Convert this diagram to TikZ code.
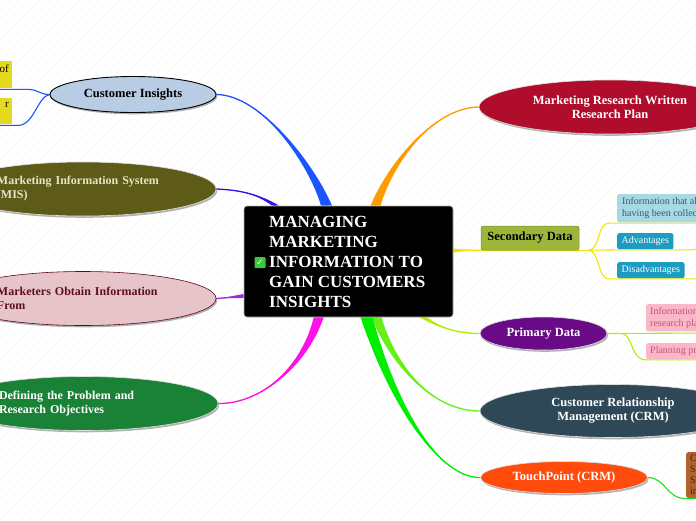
\documentclass[tikz,border=0pt]{standalone}
\usepackage{fontspec}
\setmainfont{Liberation Serif}
\newfontfamily\symfont{DejaVu Sans}
\usetikzlibrary{calc,shapes.geometric,shadows}
\pgfdeclarelayer{bg}
\pgfsetlayers{bg,main}
\definecolor{ciblue}{HTML}{B8CCE4}
\definecolor{misolive}{HTML}{5E5A18}
\definecolor{mistext}{HTML}{E8E4C6}
\definecolor{mkpink}{HTML}{E6C4C9}
\definecolor{mkborder}{HTML}{5C0A1E}
\definecolor{mktext}{HTML}{5C0F20}
\definecolor{defgreen}{HTML}{1A8236}
\definecolor{mrpred}{HTML}{B00C2B}
\definecolor{secgreen}{HTML}{9DB53A}
\definecolor{infoblue}{HTML}{A6D9E5}
\definecolor{infotext}{HTML}{3C5A6A}
\definecolor{advteal}{HTML}{1B9CC0}
\definecolor{primpurple}{HTML}{6A0A86}
\definecolor{pinkbox}{HTML}{F9B7C9}
\definecolor{pinktext}{HTML}{C25475}
\definecolor{crmslate}{HTML}{2E4858}
\definecolor{tpred}{HTML}{FF4B0C}
\definecolor{brownbox}{HTML}{B3622C}
\definecolor{browntext}{HTML}{3C2410}
\definecolor{yellowbox}{HTML}{E6DA1E}
\definecolor{checkgreen}{HTML}{3CC83C}
\definecolor{cblue}{HTML}{1A55FF}
\definecolor{cviolet}{HTML}{3D0FE8}
\definecolor{cpurple}{HTML}{9B2AE8}
\definecolor{cmagenta}{HTML}{FF10E8}
\definecolor{corange}{HTML}{FF9A00}
\definecolor{cyellow}{HTML}{F2E600}
\definecolor{clime}{HTML}{AEF000}
\definecolor{cgreen}{HTML}{66F014}
\definecolor{cbright}{HTML}{00EE00}
\definecolor{ctp}{HTML}{22DD22}
\newcommand\tpr[6]{%
  \fill[#1] ($#2+#6$) .. controls ($#3+0.5*#6$) and #4 .. #5 .. controls #4 and ($#3-0.5*#6$) .. ($#2-#6$) -- cycle;
  \draw[#1,line width=1.3pt] #2 .. controls #3 and #4 .. #5;}
\begin{document}
\begin{tikzpicture}[x=1pt,y=-1pt,
  ell/.style={ellipse, inner sep=0pt, align=center,
    font=\bfseries\fontsize{12.5}{14}\selectfont, draw=white!75!gray, line width=0.6pt,
    drop shadow={shadow xshift=1.2pt, shadow yshift=-1.8pt, fill=black, opacity=0.3}},
  leftell/.style={ell, align=left, font=\bfseries\fontsize{12}{14}\selectfont},
  smallbox/.style={fill=advteal, text=white, font=\fontsize{10}{12}\selectfont,
    inner xsep=4.5pt, inner ysep=0pt, minimum height=16pt, rounded corners=2pt, anchor=north west},
  pinkst/.style={fill=pinkbox, text=pinktext, font=\fontsize{10}{12}\selectfont, align=left,
    inner xsep=4pt, rounded corners=2pt, anchor=north west},
  thinln/.style={line width=1.1pt}]
\useasboundingbox (0,0) rectangle (696,520);
\clip (0,0) rectangle (696,520);

% ---------- nodes ----------
\node[draw=gray!60, fill=black, rounded corners=3pt, minimum width=209pt, minimum height=111pt, line width=0.6pt] (root) at (348.5,261.5) {};
\node[anchor=west, text=white, font=\bfseries\fontsize{17}{20}\selectfont, align=left, inner sep=0pt] (roottext) at (269,261.5)
  {MANAGING\\MARKETING\\INFORMATION TO\\GAIN CUSTOMERS\\INSIGHTS};
\node[fill=checkgreen, rounded corners=1pt, minimum size=11pt, inner sep=0pt, text=white, font=\symfont\fontsize{9}{9}\selectfont] (chk) at (260,262.5) {✓};

\node[ell, fill=ciblue, draw=black, line width=0.9pt, minimum width=166pt, minimum height=36pt] (ci) at (133,94.5) {Customer Insights};
\node[anchor=north east, fill=yellowbox, text width=62pt, align=right, inner xsep=3pt, minimum height=27pt, font=\fontsize{11}{12}\selectfont] (y1) at (12,61) {of\\ \mbox{}};
\node[anchor=north east, fill=yellowbox, text width=62pt, align=right, inner xsep=3pt, minimum height=26pt, font=\fontsize{11}{12}\selectfont] (y2) at (12,98) {r\\ \mbox{}};

\node[leftell, fill=misolive, text=mistext, text width=172pt, minimum width=266pt, minimum height=54pt] (mis) at (83,189) {Marketing Information System\\(MIS)};
\node[leftell, fill=mkpink, draw=mkborder, text=mktext, text width=172pt, minimum width=266pt, minimum height=54pt] (mk) at (83,298.5) {Marketers Obtain Information\\From};
\node[leftell, fill=defgreen, text=white, text width=170pt, minimum width=268pt, minimum height=54pt] (def) at (84,403.5) {Defining the Problem and\\Research Objectives};

\node[ell, fill=mrpred, text=white, minimum width=262pt, minimum height=54pt] (mrp) at (610,107) {Marketing Research Written\\Research Plan};
\node[fill=secgreen, draw=secgreen!80!black, line width=0.5pt, rounded corners=2pt, minimum width=98pt, minimum height=24pt, font=\bfseries\fontsize{12.5}{14}\selectfont] (sec) at (530,238) {Secondary Data};
\node[anchor=north west, fill=infoblue, rounded corners=2pt, text=infotext, font=\fontsize{10}{12}\selectfont, align=left, inner xsep=5pt, inner ysep=3.5pt] (info) at (617,194) {Information that already exists somewhere,\\having been collected for another purpose.};
\node[smallbox] (adv) at (617,233) {Advantages};
\node[smallbox] (dis) at (617,262) {Disadvantages};

\node[ell, fill=primpurple, text=white, minimum width=127pt, minimum height=33pt] (prim) at (543.5,333.5) {Primary Data};
\node[pinkst, inner ysep=3pt] (pi) at (646,304) {Information needed for the marketing\\research plan};
\node[pinkst, inner ysep=0pt, minimum height=16pt] (pp) at (646,343) {Planning primary data collection};

\node[ell, fill=crmslate, text=white, minimum width=266pt, minimum height=53pt] (crm) at (613,411) {Customer Relationship\\Management (CRM)};
\node[ell, fill=tpred, text=white, minimum width=167pt, minimum height=32pt] (tp) at (564,477.5) {TouchPoint (CRM)};
\node[anchor=north west, fill=brownbox, text=browntext, rounded corners=2pt, align=left, font=\fontsize{10}{11}\selectfont, inner xsep=4pt, inner ysep=3pt] (br) at (686,452) {Customer\\Sales\\Service\\interactions};

% ---------- connectors ----------
\begin{pgfonlayer}{bg}
\fill[white] (0,0) rectangle (696,520);
\foreach \i in {-520,-510,...,700} \draw[gray!7, line width=0.6pt] (\i,520) -- (\i+520,0);

\coordinate (r1) at ($(root.north)+(-22,0)$);
\coordinate (r2) at ($(root.north west)+(32,0)$);
\coordinate (r3) at ($(root.west)+(0,34.5)$);
\coordinate (r4) at ($(root.south west)+(75,0)$);
\coordinate (r5) at ($(root.north)+(27,0)$);
\coordinate (r6) at ($(root.east)+(0,-11)$);
\coordinate (r7) at ($(root.south east)+(-30,0)$);
\coordinate (r8) at ($(root.south)+(28,0)$);
\coordinate (r9) at ($(root.south)+(18,0)$);

\tpr{cblue}{(r1)}{(312,165)}{(262,95)}{(ci.east)}{(5.5,0)}
\tpr{cviolet}{(r2)}{(258,194)}{(240,190)}{(mis.east)}{(3.5,0)}
\tpr{cpurple}{(r3)}{(232,297)}{(225,298)}{(mk.east)}{(0,2)}
\tpr{cmagenta}{(r4)}{(305,365)}{(262,404)}{(def.east)}{(5,0)}
\tpr{corange}{(r5)}{(390,165)}{(432,108)}{(mrp.west)}{(5,0)}
\tpr{cyellow}{(r6)}{(465,250.5)}{(472,250)}{(sec.south west)}{(0,2)}
\tpr{clime}{(r7)}{(440,328)}{(458,333.5)}{(prim.west)}{(3.5,0)}
\tpr{cgreen}{(r8)}{(392,362)}{(430,411)}{(crm.west)}{(5,0)}
\tpr{cbright}{(r9)}{(395,410)}{(440,478)}{(tp.west)}{(6,0)}

% Customer Insights children
\draw[cblue, thinln] (ci.west) .. controls ($(ci.west)+(-10,0)$) and ($(y1.south east)+(26,1)$) .. ($(y1.south east)+(16,1)$) -- ($(y1.south west)+(0,1)$);
\draw[cblue, thinln] (ci.west) .. controls ($(ci.west)+(-12,2)$) and ($(y2.south east)+(22,1)$) .. ($(y2.south east)+(6,1)$) -- ($(y2.south west)+(0,1)$);

% Secondary data children
\coordinate (sb) at ($(sec.south east)+(9,0)$);
\coordinate (advend) at ($(adv.south east)+(30,-2)$);
\coordinate (disend) at ($(dis.south east)+(20,0.5)$);
\draw[cyellow, thinln] (sec.south west) -- (sb);
\draw[cyellow, thinln] (sb) .. controls ($(sb)+(12,0)$) and ($(info.south west)+(-20,0.5)$) .. ($(info.south west)+(-8,0.5)$) -- ($(info.south east)+(0,0.5)$);
\draw[cyellow, thinln] (sb) -- ($(adv.south west)+(0,0.5)$) -- ($(adv.south east)+(12,0.5)$) .. controls ($(adv.south east)+(20,0.5)$) .. (advend);
\draw[cyellow, thinln] (sb) .. controls ($(sb)+(12,0)$) and ($(dis.south west)+(-20,0.5)$) .. ($(dis.south west)+(-8,0.5)$) -- (disend);

% Primary data children
\coordinate (pb) at ($(prim.east)+(14,0)$);
\draw[clime, thinln] (prim.east) -- ($(pi.south east)+(0,1)$);
\draw[clime, thinln] (pb) .. controls ($(pb)+(12,0)$) and ($(pp.south west)+(-16,0.5)$) .. ($(pp.south west)+(0,0.5)$) -- ($(pp.south east)+(0,0.5)$);

% TouchPoint child
\draw[ctp, thinln] (tp.east) .. controls ($(tp.east)+(18,0)$) and ($(br.south west)+(-20,0.5)$) .. ($(br.south west)+(0,0.5)$) -- ($(br.south east)+(0,0.5)$);
\end{pgfonlayer}
\end{tikzpicture}
\end{document}
